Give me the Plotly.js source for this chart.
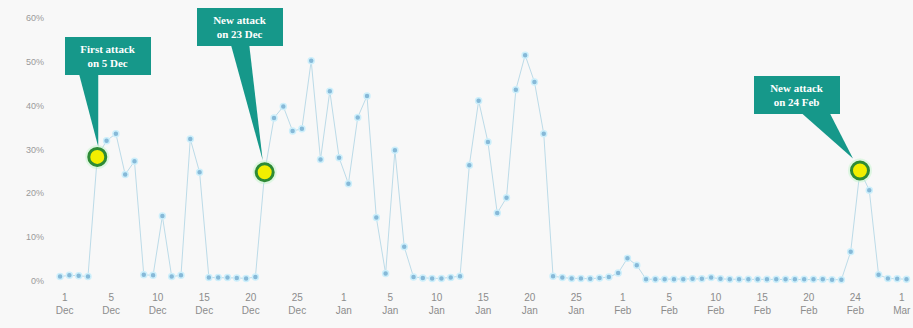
<!DOCTYPE html>
<html>
<head>
<meta charset="utf-8">
<script src="https://cdn.plot.ly/plotly-3.0.1.min.js"></script>
<style>html,body{margin:0;padding:0;background:#f8f8f8;}#chart{width:913px;height:328px;}</style>
</head>
<body>
<div id="chart"></div>
<script>
// Daily share values (%)
const values = [1.0,1.3,1.2,1.0,28.3,32.0,33.6,24.3,27.3,1.4,
 1.3,14.8,1.0,1.3,32.4,24.8,0.8,0.8,0.8,0.7,
 0.6,0.9,24.8,37.2,39.8,34.2,34.7,50.2,27.7,43.3,
 28.1,22.2,37.3,42.2,14.5,1.7,29.8,7.8,0.9,0.7,
 0.6,0.6,0.8,1.1,26.4,41.1,31.7,15.5,19.0,43.6,
 51.5,45.4,33.6,1.1,0.8,0.6,0.6,0.5,0.7,0.9,
 1.8,5.2,3.6,0.4,0.4,0.4,0.4,0.4,0.5,0.5,
 0.8,0.5,0.4,0.4,0.4,0.4,0.4,0.4,0.4,0.4,
 0.4,0.4,0.4,0.3,0.3,6.7,25.2,20.7,1.4,0.6,
 0.5,0.4];
const tickLabels = ["1 Dec","5 Dec","10 Dec","15 Dec","20 Dec","25 Dec","1 Jan","5 Jan","10 Jan","15 Jan","20 Jan","25 Jan","1 Feb","5 Feb","10 Feb","15 Feb","20 Feb","24 Feb","1 Mar"];
const yTicks = [0,10,20,30,40,50,60];
const attackIdx = [4,22,86];
const attackText = ["First attack<br>on 5 Dec","New attack<br>on 23 Dec","New attack<br>on 24 Feb"];

const xs = values.map((v,i)=>i);
const teal = '#16988a';

const traces = [
  {x: xs, y: values, type:'scatter', mode:'lines+markers',
   line:{color:'#bcdbe8', width:1},
   marker:{size:6, color:'#86b9d8', line:{color:'#cdeffb', width:1.5}},
   hoverinfo:'skip'},
  {x: attackIdx, y: attackIdx.map(i=>values[i]), type:'scatter', mode:'markers',
   marker:{size:24, color:'rgba(190,245,200,0.45)'}, hoverinfo:'skip'},
  {x: attackIdx, y: attackIdx.map(i=>values[i]), type:'scatter', mode:'markers',
   marker:{size:17, color:'#f2ee00', line:{color:'#2e8b35', width:3}}, hoverinfo:'skip'}
];

// callout offsets (pixels) and wedge paths relative to the point (pixel, y up)
const boxOff = [[11,-101],[-25,-145],[-63,-76]];
const wedges = [
  'M -19 86 L 1 86 L 1 10 Z',
  'M -35 132 L -16 132 L -2 12 Z',
  'M -58 57 L -30 57 L -7 12 Z'
];

const annotations = attackIdx.map((i,k)=>({
  x:i, y:values[i], xref:'x', yref:'y', text:attackText[k],
  showarrow:true, arrowcolor:'rgba(0,0,0,0)', arrowwidth:0.1, arrowhead:0,
  ax:boxOff[k][0], ay:boxOff[k][1],
  bgcolor:teal, bordercolor:teal, borderwidth:1, borderpad:3,
  width:78, height:30,
  font:{family:'Liberation Serif, DejaVu Serif, serif', size:11, color:'#ffffff', weight:'bold'}
}));

const shapes = attackIdx.map((i,k)=>({
  type:'path', xref:'x', yref:'y', xsizemode:'pixel', ysizemode:'pixel',
  xanchor:i, yanchor:values[i], path:wedges[k],
  fillcolor:teal, line:{width:0}, layer:'below'
}));

const layout = {
  width:913, height:328,
  margin:{l:45, r:0, t:10, b:38},
  paper_bgcolor:'#f8f8f8', plot_bgcolor:'rgba(0,0,0,0)',
  showlegend:false,
  xaxis:{range:[-1.62,91.7], showgrid:false, zeroline:false, showline:false,
    tickvals: tickLabels.map((t,k)=>k*5+0.5), ticktext: tickLabels.map(t=>t.replace(' ','<br>')),
    ticks:'', tickfont:{family:'Liberation Sans, Arial, sans-serif', size:10, color:'#8c8c8c'}},
  yaxis:{range:[-2.05,61.8], showgrid:false, zeroline:false, showline:false,
    tickvals:yTicks, ticktext:yTicks.map(v=>v+'%'), ticks:'',
    tickfont:{family:'Liberation Sans, Arial, sans-serif', size:9, color:'#9a9a9a'}},
  annotations: annotations,
  shapes: shapes
};

Plotly.newPlot('chart', traces, layout, {displayModeBar:false, staticPlot:true});
</script>
</body>
</html>
